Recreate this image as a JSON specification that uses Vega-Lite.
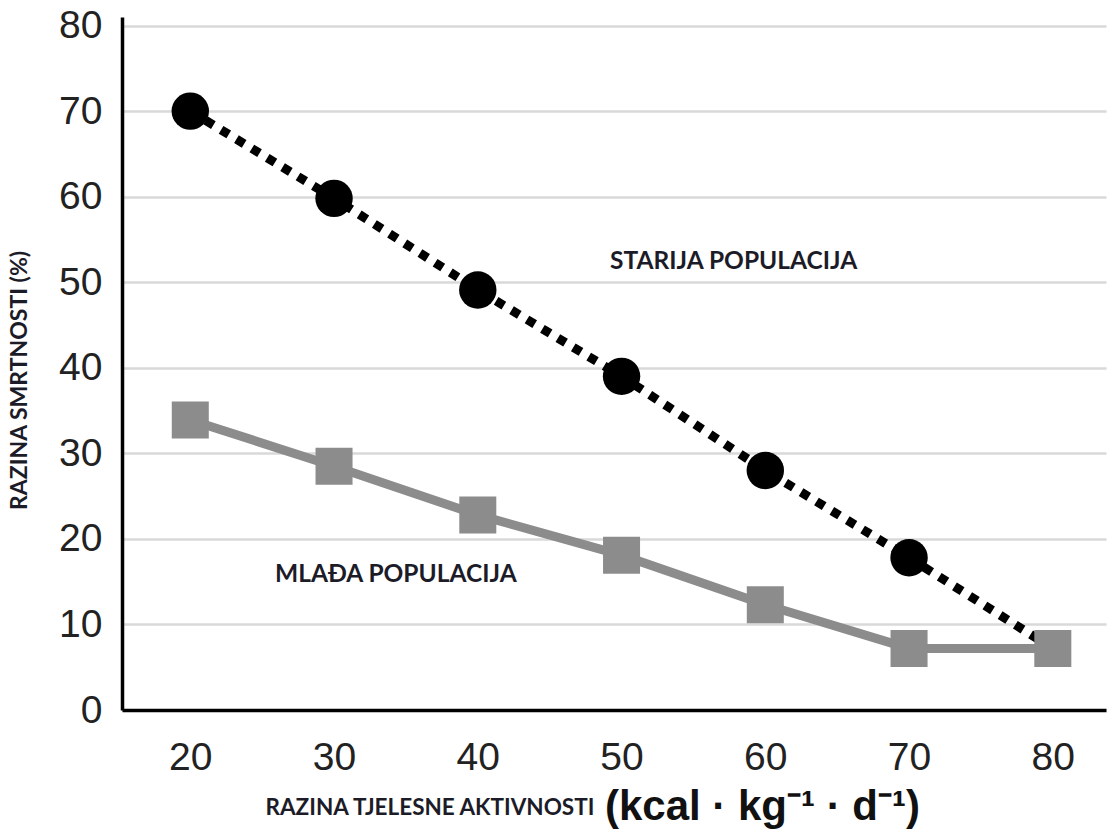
{
  "$schema": "https://vega.github.io/schema/vega-lite/v6.json",
  "autosize": "none",
  "width": 984,
  "height": 693,
  "padding": {"left": 122, "top": 17, "right": 2, "bottom": 119},
  "background": "white",
  "config": {
    "view": {"stroke": null},
    "axis": {"labelFont": "Liberation Sans", "labelColor": "#222222", "titleColor": "#1c1c28"}
  },
  "datasets": {
    "older": [
      {"x": 20, "y": 70, "marker": true},
      {"x": 30, "y": 59.8, "marker": true},
      {"x": 40, "y": 49.1, "marker": true},
      {"x": 50, "y": 39.0, "marker": true},
      {"x": 60, "y": 28.0, "marker": true},
      {"x": 70, "y": 17.8, "marker": true},
      {"x": 80, "y": 7.2, "marker": false}
    ],
    "younger": [
      {"x": 20, "y": 33.9},
      {"x": 30, "y": 28.5},
      {"x": 40, "y": 22.8},
      {"x": 50, "y": 18.1},
      {"x": 60, "y": 12.3},
      {"x": 70, "y": 7.2},
      {"x": 80, "y": 7.2}
    ],
    "labels": [
      {"x": 57.8, "y": 52.4, "text": "STARIJA POPULACIJA"},
      {"x": 34.3, "y": 15.8, "text": "MLAĐA POPULACIJA"}
    ],
    "units": [
      {"x": 59.8, "y": -11.3, "text": "(kcal · kg⁻¹ · d⁻¹)"}
    ]
  },
  "layer": [
    {
      "data": {"name": "older"},
      "mark": {"type": "line", "color": "black", "strokeWidth": 9, "strokeDash": [9, 9], "strokeCap": "butt"},
      "encoding": {
        "x": {
          "field": "x", "type": "quantitative",
          "scale": {"domain": [15.25, 83.7], "nice": false, "zero": false},
          "axis": {
            "values": [20, 30, 40, 50, 60, 70, 80],
            "grid": false, "ticks": false,
            "domainColor": "black", "domainWidth": 3.5,
            "labelFontSize": 39, "labelPadding": 28,
            "title": "RAZINA TJELESNE AKTIVNOSTI",
            "titleFont": "Lato", "titleFontWeight": "bold", "titleFontSize": 22.5,
            "titleAnchor": "start", "titleAlign": "left", "titleBaseline": "middle",
            "titleX": 143, "titleY": 97
          }
        },
        "y": {
          "field": "y", "type": "quantitative",
          "scale": {"domain": [0, 81], "nice": false},
          "axis": {
            "values": [0, 10, 20, 30, 40, 50, 60, 70, 80],
            "grid": true, "gridColor": "#d9d9d9", "gridWidth": 2.5,
            "ticks": false,
            "domainColor": "black", "domainWidth": 3.5,
            "labelFontSize": 39, "labelPadding": 20,
            "title": "RAZINA SMRTNOSTI (%)",
            "titleFont": "Lato", "titleFontWeight": "bold", "titleFontSize": 23,
            "titleAnchor": "middle", "titleBaseline": "middle", "titleAngle": -90,
            "titleX": -103, "titleY": 363
          }
        }
      }
    },
    {
      "data": {"name": "younger"},
      "mark": {"type": "line", "color": "#8c8c8c", "strokeWidth": 9},
      "encoding": {
        "x": {"field": "x", "type": "quantitative"},
        "y": {"field": "y", "type": "quantitative"}
      }
    },
    {
      "data": {"name": "older"},
      "transform": [{"filter": "datum.marker"}],
      "mark": {"type": "point", "shape": "circle", "filled": true, "color": "black", "size": 1400, "opacity": 1},
      "encoding": {
        "x": {"field": "x", "type": "quantitative"},
        "y": {"field": "y", "type": "quantitative"}
      }
    },
    {
      "data": {"name": "younger"},
      "mark": {"type": "point", "shape": "square", "filled": true, "color": "#8c8c8c", "size": 1370, "opacity": 1},
      "encoding": {
        "x": {"field": "x", "type": "quantitative"},
        "y": {"field": "y", "type": "quantitative"}
      }
    },
    {
      "data": {"name": "labels"},
      "mark": {"type": "text", "font": "Lato", "fontWeight": "bold", "fontSize": 24.5, "color": "#1c1c28", "align": "center", "baseline": "middle"},
      "encoding": {
        "x": {"field": "x", "type": "quantitative"},
        "y": {"field": "y", "type": "quantitative"},
        "text": {"field": "text"}
      }
    },
    {
      "data": {"name": "units"},
      "mark": {"type": "text", "font": "Liberation Sans", "fontWeight": "bold", "fontSize": 42, "color": "#111111", "align": "center", "baseline": "middle"},
      "encoding": {
        "x": {"field": "x", "type": "quantitative"},
        "y": {"field": "y", "type": "quantitative"},
        "text": {"field": "text"}
      }
    }
  ]
}
